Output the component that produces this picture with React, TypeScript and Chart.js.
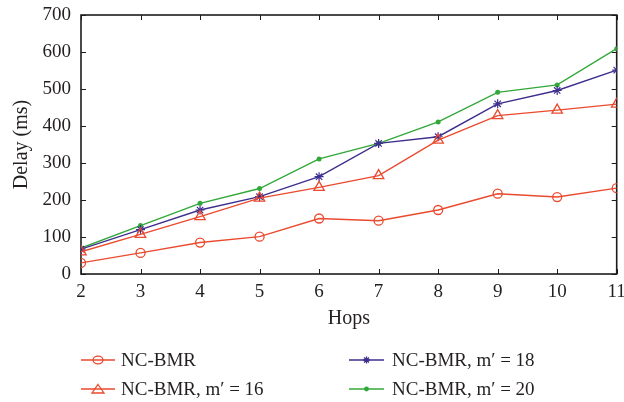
import React, { useEffect, useRef } from 'react';
import { Chart, registerables } from 'chart.js';

Chart.register(...registerables);

const hops = [2, 3, 4, 5, 6, 7, 8, 9, 10, 11];
const ncBmr = [30, 57, 85, 101, 150, 144, 173, 217, 208, 232];
const ncBmr16 = [60, 107, 155, 205, 234, 266, 362, 428, 443, 459];
const ncBmr18 = [67, 120, 173, 209, 263, 353, 371, 460, 496, 551];
const ncBmr20 = [70, 131, 191, 231, 311, 353, 411, 491, 511, 609];
const seriesLabels = ['NC-BMR', 'NC-BMR, m\u2032 = 16', 'NC-BMR, m\u2032 = 18', 'NC-BMR, m\u2032 = 20'];
const xTitle = 'Hops';
const yTitle = 'Delay (ms)';

const RED = '#ea4a2e';
const BLUE = '#3e2f8e';
const GREEN = '#33a83a';
const AXIS = '#1c1c1c';
const FONT = "'Liberation Serif', 'DejaVu Serif', serif";

type MarkerKind = 'circle' | 'triangle' | 'star' | 'dot';

function drawMarker(ctx: CanvasRenderingContext2D, kind: MarkerKind, x: number, y: number, color: string) {
  ctx.save();
  ctx.strokeStyle = color;
  ctx.fillStyle = color;
  ctx.lineWidth = 1.3;
  ctx.beginPath();
  if (kind === 'circle') {
    ctx.ellipse(x, y, 5, 3.8, 0, 0, Math.PI * 2);
    ctx.stroke();
  } else if (kind === 'triangle') {
    ctx.moveTo(x, y - 4.5);
    ctx.lineTo(x + 6, y + 4);
    ctx.lineTo(x - 6, y + 4);
    ctx.closePath();
    ctx.stroke();
  } else if (kind === 'star') {
    const r = 3.5;
    ctx.moveTo(x - r, y); ctx.lineTo(x + r, y);
    ctx.moveTo(x, y - r); ctx.lineTo(x, y + r);
    const d = r * 0.7;
    ctx.moveTo(x - d, y - d); ctx.lineTo(x + d, y + d);
    ctx.moveTo(x - d, y + d); ctx.lineTo(x + d, y - d);
    ctx.stroke();
  } else {
    ctx.arc(x, y, 2.4, 0, Math.PI * 2);
    ctx.fill();
  }
  ctx.restore();
}

const legendPlugin = {
  id: 'customLegend',
  afterDraw(chart: any) {
    const ctx: CanvasRenderingContext2D = chart.ctx;
    const kinds: MarkerKind[] = ['circle', 'triangle', 'star', 'dot'];
    const slots = [
      { x0: 81, x1: 115, tx: 121, y: 360 },
      { x0: 81, x1: 115, tx: 121, y: 389 },
      { x0: 349, x1: 384, tx: 392, y: 360 },
      { x0: 349, x1: 384, tx: 392, y: 389 },
    ];
    chart.data.datasets.forEach((ds: any, i: number) => {
      const s = slots[i];
      ctx.save();
      ctx.strokeStyle = ds.borderColor;
      ctx.lineWidth = 1.4;
      ctx.beginPath();
      ctx.moveTo(s.x0, s.y);
      ctx.lineTo(s.x1, s.y);
      ctx.stroke();
      drawMarker(ctx, kinds[i], (s.x0 + s.x1) / 2, s.y, ds.borderColor);
      ctx.fillStyle = '#231f20';
      ctx.font = `19px ${FONT}`;
      ctx.textBaseline = 'middle';
      ctx.textAlign = 'left';
      ctx.fillText(ds.label, s.tx, s.y + 1);
      ctx.restore();
    });
  },
};

const framePlugin = {
  id: 'frame',
  beforeDatasetsDraw(chart: any) {
    const { ctx, chartArea: a, scales } = chart;
    ctx.save();
    ctx.strokeStyle = AXIS;
    ctx.lineWidth = 1;
    const tl = 5;
    ctx.beginPath();
    scales.x.ticks.forEach((t: any) => {
      const x = Math.round(scales.x.getPixelForValue(t.value)) + 0.5;
      ctx.moveTo(x, a.bottom); ctx.lineTo(x, a.bottom - tl);
      ctx.moveTo(x, a.top); ctx.lineTo(x, a.top + tl);
    });
    scales.y.ticks.forEach((t: any) => {
      const y = Math.round(scales.y.getPixelForValue(t.value)) + 0.5;
      ctx.moveTo(a.left, y); ctx.lineTo(a.left + tl, y);
      ctx.moveTo(a.right, y); ctx.lineTo(a.right - tl, y);
    });
    ctx.stroke();
    ctx.lineWidth = 1.6;
    ctx.strokeRect(a.left, a.top, a.right - a.left, a.bottom - a.top);
    ctx.restore();
  },
};

export default function App() {
  const ref = useRef<HTMLCanvasElement | null>(null);

  useEffect(() => {
    if (!ref.current) return;
    const toXY = (vals: number[]) => hops.map((h, i) => ({ x: h, y: vals[i] }));
    const chart = new Chart(ref.current, {
      type: 'line',
      data: {
        datasets: [
          {
            label: seriesLabels[0], data: toXY(ncBmr), borderColor: RED, backgroundColor: 'transparent',
            borderWidth: 1.4, pointStyle: 'circle', pointRadius: 4.5, pointBorderWidth: 1.3,
            pointBackgroundColor: 'transparent', pointBorderColor: RED,
          },
          {
            label: seriesLabels[1], data: toXY(ncBmr16), borderColor: RED, backgroundColor: 'transparent',
            borderWidth: 1.4, pointStyle: 'triangle', pointRadius: 6, pointBorderWidth: 1.3,
            pointBackgroundColor: 'transparent', pointBorderColor: RED,
          },
          {
            label: seriesLabels[2], data: toXY(ncBmr18), borderColor: BLUE, backgroundColor: 'transparent',
            borderWidth: 1.4, pointStyle: 'star', pointRadius: 4.5, pointBorderWidth: 1.2,
            pointBackgroundColor: BLUE, pointBorderColor: BLUE,
          },
          {
            label: seriesLabels[3], data: toXY(ncBmr20), borderColor: GREEN, backgroundColor: 'transparent',
            borderWidth: 1.4, pointStyle: 'circle', pointRadius: 2.5, pointBorderWidth: 0,
            pointBackgroundColor: GREEN, pointBorderColor: GREEN,
          },
        ],
      },
      options: {
        animation: false,
        responsive: false,
        maintainAspectRatio: false,
        devicePixelRatio: 1,
        layout: { padding: { top: 15, right: 6, left: 0, bottom: 0 } },
        plugins: { legend: { display: false }, tooltip: { enabled: false } },
        elements: { line: { tension: 0 } },
        scales: {
          x: {
            type: 'linear', min: 2, max: 11,
            grid: { display: false, drawTicks: false },
            border: { display: false },
            ticks: { stepSize: 1, color: '#231f20', font: { family: FONT, size: 19 }, padding: 7, maxRotation: 0 },
            title: { display: true, text: xTitle, color: '#231f20', font: { family: FONT, size: 20 }, padding: { top: 0, bottom: 71 } },
            afterFit: (s: any) => { s.height = 128; s.paddingLeft = 0; s.paddingRight = 0; },
          },
          y: {
            min: 0, max: 700,
            grid: { display: false, drawTicks: false },
            border: { display: false },
            ticks: { stepSize: 100, color: '#231f20', font: { family: FONT, size: 19 }, padding: 10 },
            title: { display: true, text: yTitle, color: '#231f20', font: { family: FONT, size: 20 }, padding: { top: 10, bottom: 0 } },
            afterFit: (s: any) => { s.width = 81; s.paddingTop = 0; s.paddingBottom = 0; },
          },
        },
      },
      plugins: [framePlugin, legendPlugin],
    } as any);
    return () => chart.destroy();
  }, []);

  return (
    <div style={{ position: 'absolute', left: 0, top: 0, width: 624, height: 402, background: '#fff' }}>
      <canvas ref={ref} width={624} height={402} />
    </div>
  );
}
